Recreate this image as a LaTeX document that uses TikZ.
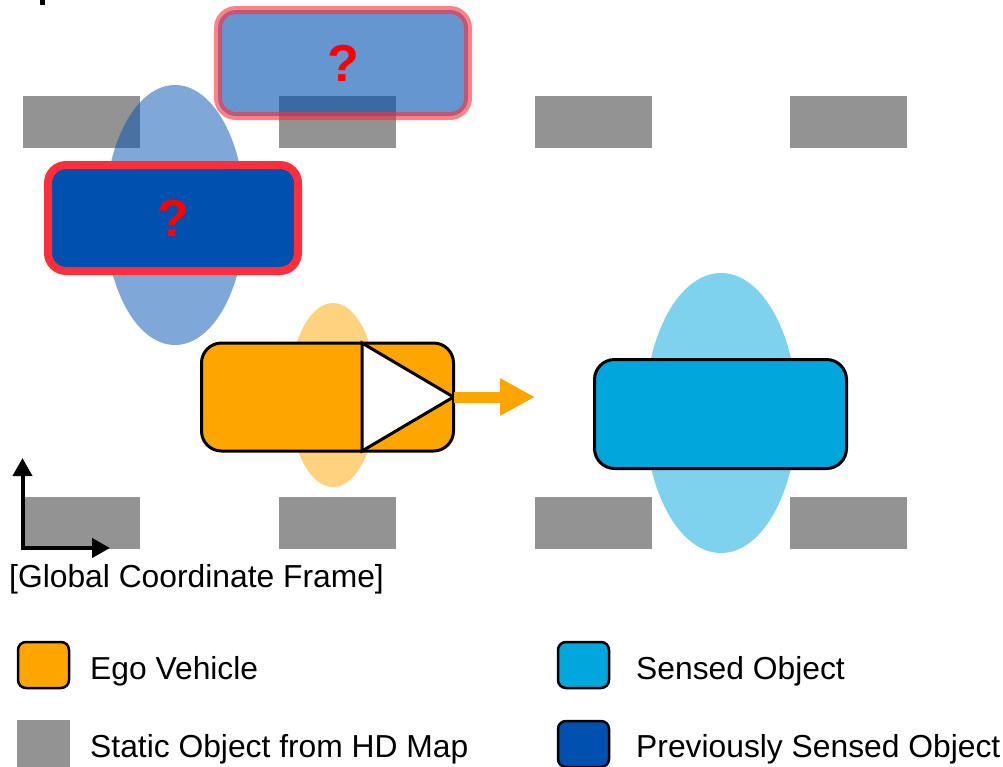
\documentclass[tikz,border=0pt]{standalone}
\usepackage{fontspec}
\setmainfont{Liberation Sans}
\usetikzlibrary{shapes.geometric, arrows.meta}
\definecolor{mapgray}{RGB}{147,147,147}
\definecolor{prevblue}{RGB}{0,80,176}
\definecolor{redrim}{RGB}{255,46,58}
\definecolor{egoorange}{RGB}{255,165,0}
\definecolor{sensedcyan}{RGB}{0,166,220}
\definecolor{qred}{RGB}{255,0,0}
\tikzset{
  mapbox/.style={fill=mapgray, minimum width=117, minimum height=52, inner sep=0, outer sep=0},
  zone/.style={ellipse, inner sep=0, outer sep=0, fill opacity=0.5},
  prevbox/.style={draw=redrim, fill=prevblue, line width=8, rounded corners=18,
    minimum width=250, minimum height=106, inner sep=0, outer sep=0,
    text=qred, font=\fontsize{52}{56}\selectfont\bfseries},
  carbox/.style={draw=black, line width=3, rounded corners=20,
    minimum width=252, minimum height=108, inner sep=0, outer sep=0},
  legbox/.style={draw=black, line width=2.5, rounded corners=8,
    minimum width=51, minimum height=46, inner sep=0, outer sep=0},
  legtext/.style={anchor=base west, inner sep=0, font=\fontsize{31.8}{36}\selectfont},
}
\begin{document}
\begin{tikzpicture}[x=1pt, y=-1pt]
\useasboundingbox (0,0) rectangle (1003,766);
% cut-off fragment at top left
\fill[black] (40,0) rectangle (45,5);
% zones under map objects
\node[zone, fill=sensedcyan, minimum width=152, minimum height=280] (sensedzone) at (721,413) {};
\node[zone, fill=egoorange, minimum width=88, minimum height=184] (egozone) at (333,395) {};
% static map objects
\node[mapbox] (m1) at (81.5,122) {};
\node[mapbox] (m2) at (337.5,122) {};
\node[mapbox] (m3) at (593.5,122) {};
\node[mapbox] (m4) at (848.5,122) {};
\node[mapbox] (m5) at (81.5,523) {};
\node[mapbox] (m6) at (337.5,523) {};
\node[mapbox] (m7) at (593.5,523) {};
\node[mapbox] (m8) at (848.5,523) {};
% previously sensed zone
\node[zone, fill=prevblue, minimum width=140, minimum height=260] (prevzone) at (175,215) {};
% previously sensed objects
\node[prevbox] (prev) at (173,218) {?};
\node[prevbox, fill opacity=0.6, draw opacity=0.6, text opacity=1] (prevold) at (343,63) {?};
% ego vehicle
\node[carbox, fill=egoorange] (ego) at (327.5,397) {};
\coordinate (trix) at (362,0);
\draw[fill=white, line width=3, line join=miter] (ego.north -| trix) -- (ego.east) -- (ego.south -| trix) -- cycle;
\coordinate (arrowend) at (535,397);
\draw[draw=egoorange, line width=11, -{Triangle[length=35pt, width=35pt]}] (ego.east) -- (arrowend);
% sensed object
\node[carbox, fill=sensedcyan, minimum height=109] (sensed) at (720.5,414) {};
% global coordinate frame
\coordinate (origin) at (22.5,548);
\coordinate (ytip) at (22.5,458);
\coordinate (xtip) at (110,548);
\draw[line width=4, {Triangle[length=18pt, width=19pt]}-{Triangle[length=18pt, width=19pt]}] (ytip) -- (origin) -- (xtip);
\node[legtext] (frame) at (9,587.5) {[Global Coordinate Frame]};
% legend
\node[legbox, fill=egoorange] (l1) at (43.5,665) {};
\node[legtext] (t1) at (90,679) {Ego Vehicle};
\node[legbox, fill=sensedcyan] (l2) at (583.5,665) {};
\node[legtext] (t2) at (636,679) {Sensed Object};
\node[fill=mapgray, minimum width=53, minimum height=48, inner sep=0, outer sep=0] (l3) at (43.5,744) {};
\node[legtext] (t3) at (90,757) {Static Object from HD Map};
\node[legbox, fill=prevblue] (l4) at (583.5,744) {};
\node[legtext] (t4) at (636,757) {Previously Sensed Object};
\end{tikzpicture}
\end{document}
